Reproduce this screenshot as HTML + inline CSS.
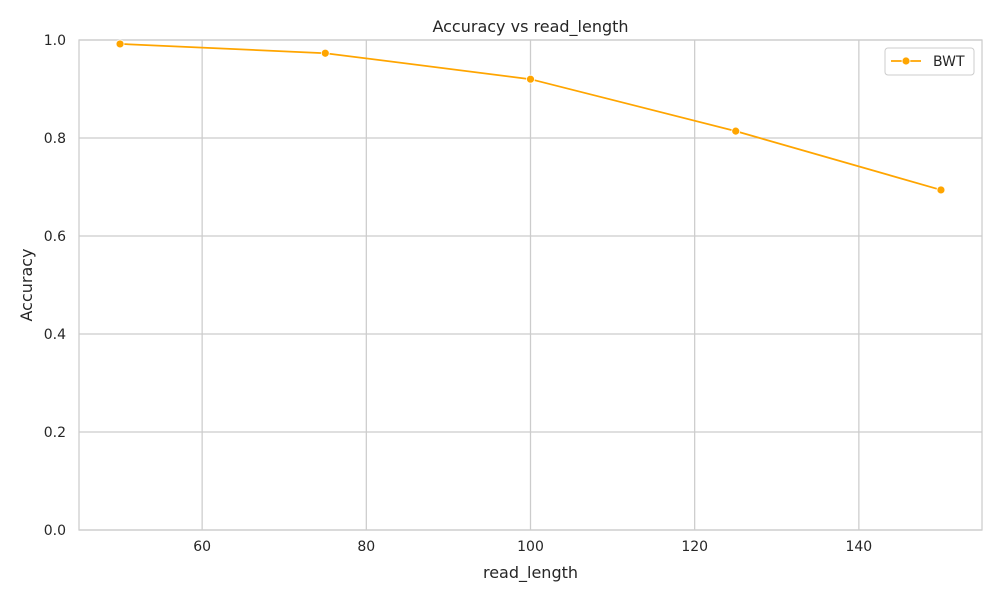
<!DOCTYPE html>
<html><head><meta charset="utf-8"><style>
body{margin:0;background:#fff;font-family:"Liberation Sans","DejaVu Sans",sans-serif;}
svg text{font-family:"DejaVu Sans","Liberation Sans",sans-serif;fill:#262626;}
</style></head><body>
<svg id="chart" width="1000" height="600" xmlns="http://www.w3.org/2000/svg">
<rect width="1000" height="600" fill="#fff"/>
<g id="grid"></g><g id="ticks"></g>
<rect x="79" y="40" width="903" height="490" fill="none" stroke="#cccccc" stroke-width="1.25"/>
<g id="series"></g>
<text x="530.5" y="32" text-anchor="middle" font-size="16">Accuracy vs read_length</text>
<text x="530.5" y="578" text-anchor="middle" font-size="16">read_length</text>
<text transform="translate(32,285) rotate(-90)" text-anchor="middle" font-size="16">Accuracy</text>
<g>
<rect x="885" y="48" width="89" height="27" rx="3" fill="#fff" stroke="#cccccc"/>
<line x1="891" y1="61" x2="921" y2="61" stroke="#ffa500" stroke-width="1.75"/>
<circle cx="906" cy="61" r="4" fill="#ffa500" stroke="#fff" stroke-width="0.8"/>
<text x="933" y="66" font-size="14">BWT</text>
</g>
</svg>
<script>
const xValues=[50,75,100,125,150];
const accuracy=[0.992,0.973,0.920,0.814,0.694];
const xTicks=[60,80,100,120,140];
const yTicks=[0,0.2,0.4,0.6,0.8,1.0];
const X0=79,X1=982,Y0=530,Y1=40,XMIN=45,XMAX=155,YMIN=0,YMAX=1;
const sx=v=>X0+(v-XMIN)/(XMAX-XMIN)*(X1-X0);
const sy=v=>Y0-(v-YMIN)/(YMAX-YMIN)*(Y0-Y1);
const NS="http://www.w3.org/2000/svg";
const mk=(t,a,p)=>{const e=document.createElementNS(NS,t);for(const k in a)e.setAttribute(k,a[k]);p.appendChild(e);return e;};
const grid=document.getElementById('grid'),ticks=document.getElementById('ticks'),series=document.getElementById('series');
xTicks.forEach(v=>{
 const l=mk('line',{x1:sx(v),x2:sx(v),y1:Y1,y2:Y0,stroke:'#cccccc','stroke-width':1.25},grid);
 
 
 const t=mk('text',{x:sx(v),y:Y0+21,'text-anchor':'middle','font-size':14},ticks);
 t.textContent=v;
 
 
});
yTicks.forEach(v=>{
 const l=mk('line',{x1:X0,x2:X1,y1:sy(v),y2:sy(v),stroke:'#cccccc','stroke-width':1.25},grid);
 
 
 const t=mk('text',{x:X0-13,y:sy(v)+5,'text-anchor':'end','font-size':14},ticks);
 t.textContent=v.toFixed(1);
 
 
});
const pts=xValues.map((x,i)=>sx(x)+','+sy(accuracy[i])).join(' ');
const pl=mk('polyline',{points:pts,fill:'none',stroke:'#ffa500','stroke-width':1.75},series);


xValues.forEach((x,i)=>{
 const c=mk('circle',{cx:sx(x),cy:sy(accuracy[i]),r:4,fill:'#ffa500',stroke:'#fff','stroke-width':0.8},series);
 
 
});
</script>
</body></html>
